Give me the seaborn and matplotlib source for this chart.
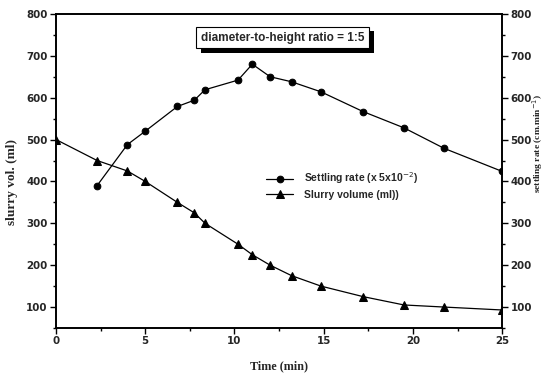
import matplotlib
matplotlib.use('Agg')
import matplotlib.pyplot as plt
import matplotlib.patheffects as pe
from matplotlib.ticker import MultipleLocator
import pandas as pd
import seaborn as sns

sns.set_style('ticks')

# Values
time_rate = [2.3, 4.0, 5.0, 6.8, 7.75, 8.35, 10.2, 11.0, 12.0, 13.2, 14.85,
             17.2, 19.5, 21.75, 25.0]
settling_rate = [390, 488, 520, 579, 594, 619, 642, 680, 650, 638, 614,
                 567, 528, 479, 424]

time_vol = [0.0, 2.3, 4.0, 5.0, 6.8, 7.75, 8.35, 10.2, 11.0, 12.0, 13.2,
            14.85, 17.2, 19.5, 21.75, 25.0]
slurry_volume = [500, 450, 425, 400, 350, 325, 300, 250, 225, 200, 175,
                 150, 125, 105, 100, 93]

rate_label = 'Settling rate (x 5x10$^{-2}$)'
vol_label = 'Slurry volume (ml))'

TICK_FONT = dict(family='DejaVu Sans', weight='bold', size=7.4)

rate_df = pd.DataFrame({'time': time_rate, 'value': settling_rate})
vol_df = pd.DataFrame({'time': time_vol, 'value': slurry_volume})

fig = plt.figure(figsize=(5.44, 3.77), dpi=100)
ax = fig.add_axes([0.103, 0.130, 0.820, 0.833])

sns.lineplot(data=rate_df, x='time', y='value', ax=ax, color='black',
             lw=0.9, marker='o', markersize=4.8, markeredgecolor='black',
             label=rate_label)
sns.lineplot(data=vol_df, x='time', y='value', ax=ax, color='black',
             lw=0.9, marker='^', markersize=6, markeredgecolor='black',
             label=vol_label)

ax.set_xlim(0, 25)
ax.set_ylim(50, 800)
ax.xaxis.set_major_locator(MultipleLocator(5))
ax.xaxis.set_minor_locator(MultipleLocator(2.5))
ax.yaxis.set_minor_locator(MultipleLocator(50))
ax.set_yticks(range(100, 801, 100))

# Twin axis only repeats the scale on the right
ax2 = ax.twinx()
ax2.set_ylim(50, 800)
ax2.yaxis.set_minor_locator(MultipleLocator(50))
ax2.set_yticks(range(100, 801, 100))

for a in (ax, ax2):
    a.tick_params(which='major', direction='out', length=4, width=1,
                  color='black', pad=2)
    a.tick_params(which='minor', direction='out', length=2.5, width=1,
                  color='black')
    for lab in a.get_xticklabels() + a.get_yticklabels():
        lab.set(**TICK_FONT)
    for s in a.spines.values():
        s.set_color('black')
        s.set_linewidth(1.2)
ax.tick_params(axis='x', pad=1.5)

ax.set_xlabel('Time (min)', family='Liberation Serif', weight='bold',
              size=8.7)
ax.xaxis.set_label_coords(0.5, -0.102)
ax.set_ylabel('slurry vol. (ml)', family='Liberation Serif', weight='bold',
              size=9.6)
ax.yaxis.set_label_coords(-0.086, 0.465)
ax2.set_ylabel('settling rate (cm.min$^{-1}$)', family='Liberation Serif',
               weight='bold', size=6.8, rotation=90)
ax2.yaxis.set_label_coords(1.064, 0.586)

leg = ax.legend(loc='center left', bbox_to_anchor=(0.455, 0.455),
                frameon=False, handlelength=2.6, handletextpad=1.0,
                labelspacing=0.3, borderpad=0.2,
                prop=dict(family='Liberation Sans', weight='bold', size=7.5))

txt = ax.text(0.508, 0.925, 'diameter-to-height ratio = 1:5',
              transform=ax.transAxes, ha='center', va='center',
              family='Liberation Sans', weight='bold', size=8.5,
              bbox=dict(boxstyle='square,pad=0.42', fc='white', ec='black',
                        lw=0.8))
txt.get_bbox_patch().set_path_effects([
    pe.SimplePatchShadow(offset=(3.5, -3.5), shadow_rgbFace='black', alpha=1),
    pe.Normal()])

fig.savefig('out.png', dpi=100)
